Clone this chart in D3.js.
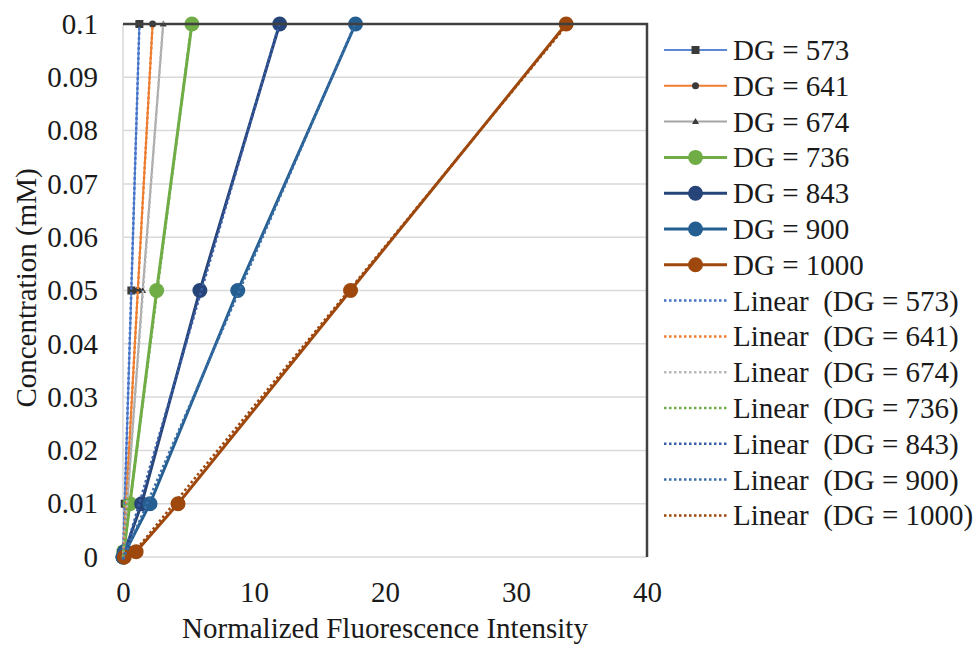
<!DOCTYPE html>
<html><head><meta charset="utf-8">
<script src="https://cdn.jsdelivr.net/npm/d3@7"></script>
<style>body{margin:0;background:#fff}svg{display:block}</style>
</head><body>
<script>
const concentrations = [0, 0.001, 0.01, 0.05, 0.1];
const seriesNames = ["DG = 573","DG = 641","DG = 674","DG = 736","DG = 843","DG = 900","DG = 1000"];
const dg573 = [0, 0.02, 0.13, 0.64, 1.25];
const dg641 = [0, 0.03, 0.24, 1.13, 2.26];
const dg674 = [0, 0.04, 0.32, 1.5, 3.07];
const dg736 = [0, 0.06, 0.53, 2.57, 5.26];
const dg843 = [0, 0.12, 1.42, 5.87, 11.96];
const dg900 = [0, 0.18, 2.06, 8.76, 17.75];
const dg1000 = [0.1, 1.0, 4.2, 17.37, 33.83];
const xTicks = [0, 10, 20, 30, 40];
const yTicks = [0, 0.01, 0.02, 0.03, 0.04, 0.05, 0.06, 0.07, 0.08, 0.09, 0.1];
const lineColors = ["#5b87d4","#ed7d31","#a5a5a5","#70ad47","#264478","#255e91","#9e480e"];
const trendColors = ["#4472c4","#ed7d31","#b8b8b8","#70ad47","#3a5ea8","#3b6fa8","#9e480e"];
const markerTypes = ["square","smallcircle","triangle","circle","circle","circle","circle"];
const allValues = [dg573, dg641, dg674, dg736, dg843, dg900, dg1000];

const FONT = "Liberation Serif";
const FS = 29;
const W = 977, H = 647;
const svg = d3.select("body").append("svg").attr("width", W).attr("height", H);
const x = d3.scaleLinear().domain([0, 40]).range([123, 647]);
const y = d3.scaleLinear().domain([0, 0.1]).range([557, 24]);

// gridlines
svg.append("g").selectAll("line").data(yTicks).join("line")
  .attr("x1", x(0)).attr("x2", x(40)).attr("y1", d => y(d)).attr("y2", d => y(d))
  .attr("stroke", "#d9d9d9").attr("stroke-width", 1.5);
svg.append("line").attr("x1", x(0)).attr("x2", x(0)).attr("y1", y(0)).attr("y2", y(0.1))
  .attr("stroke", "#d9d9d9").attr("stroke-width", 1.5);

// axes (labels only)
const yAxis = svg.append("g").attr("transform", `translate(${x(0)},0)`)
  .call(d3.axisLeft(y).tickValues(yTicks).tickFormat(d => d === 0 ? "0" : String(+d.toFixed(2))).tickSize(0).tickPadding(25));
yAxis.attr("font-family", FONT).attr("font-size", FS);
yAxis.select(".domain").remove();
yAxis.selectAll("text").attr("fill", "#1a1a1a");
const xAxis = svg.append("g").attr("transform", `translate(0,${y(0)})`)
  .call(d3.axisBottom(x).tickValues(xTicks).tickFormat(d3.format("d")).tickSize(0).tickPadding(24));
xAxis.attr("font-family", FONT).attr("font-size", FS);
xAxis.select(".domain").remove();
xAxis.selectAll("text").attr("fill", "#1a1a1a");

// titles
svg.append("text").attr("x", 385).attr("y", 638).attr("text-anchor", "middle").attr("font-size", FS)
  .attr("font-family", FONT).attr("fill", "#1a1a1a").text("Normalized Fluorescence Intensity");
svg.append("text").attr("transform", "translate(36,288) rotate(-90)").attr("text-anchor", "middle").attr("font-size", FS)
  .attr("font-family", FONT).attr("fill", "#1a1a1a").text("Concentration (mM)");

const line = d3.line().x(d => x(d[0])).y(d => y(d[1]));

function drawMarker(g, type, cx, cy, color) {
  if (type === "square") g.append("rect").attr("x", cx - 4).attr("y", cy - 4).attr("width", 8).attr("height", 8).attr("fill", "#3a3a3a");
  else if (type === "smallcircle") g.append("circle").attr("cx", cx).attr("cy", cy).attr("r", 3.5).attr("fill", "#3a3a3a");
  else if (type === "triangle") g.append("path").attr("d", `M${cx},${cy-3.5}L${cx+3.5},${cy+2.5}L${cx-3.5},${cy+2.5}Z`).attr("fill", "#3a3a3a");
  else g.append("circle").attr("cx", cx).attr("cy", cy).attr("r", 7.5).attr("fill", color);
}

// series
const plot = svg.append("g");
allValues.forEach((vals, i) => {
  const pts = vals.map((v, j) => [v, concentrations[j]]);
  plot.append("path").attr("d", line(pts)).attr("fill", "none").attr("stroke", lineColors[i])
    .attr("stroke-width", i < 3 ? 2 : 3);
  pts.forEach(p => drawMarker(plot, markerTypes[i], x(p[0]), y(p[1]), lineColors[i]));
});
// trendlines
allValues.forEach((vals, i) => {
  const xs = vals, ys = concentrations;
  const mx = d3.mean(xs), my = d3.mean(ys);
  const sxy = d3.sum(xs.map((v, j) => (v - mx) * (ys[j] - my)));
  const sxx = d3.sum(xs.map(v => (v - mx) * (v - mx)));
  const b = sxy / sxx, a = my - b * mx;
  const x0 = d3.min(xs), x1 = d3.max(xs);
  plot.append("path").attr("d", line([[x0, a + b * x0], [x1, a + b * x1]]))
    .attr("fill", "none").attr("stroke", trendColors[i]).attr("stroke-width", 2.5).attr("stroke-dasharray", "2.5,2.5");
});

// plot border top/right
svg.append("path").attr("d", `M${x(0)},${y(0.1)}H${x(40)}V${y(0)}`).attr("fill", "none").attr("stroke", "#404040").attr("stroke-width", 2.5);

// legend
const legend = svg.append("g").attr("font-family", FONT).attr("font-size", FS).attr("fill", "#1a1a1a");
const rowY = i => 50 + i * 35.8;
seriesNames.forEach((name, i) => {
  const cy = rowY(i);
  legend.append("line").attr("x1", 664).attr("x2", 727).attr("y1", cy).attr("y2", cy)
    .attr("stroke", lineColors[i]).attr("stroke-width", i < 3 ? 2 : 3);
  drawMarker(legend, markerTypes[i], 695.5, cy, lineColors[i]);
  legend.append("text").attr("x", 733).attr("y", cy + 10).text(name);
});
seriesNames.forEach((name, i) => {
  const cy = rowY(i + 7);
  legend.append("line").attr("x1", 664).attr("x2", 727).attr("y1", cy).attr("y2", cy)
    .attr("stroke", trendColors[i]).attr("stroke-width", 2.5).attr("stroke-dasharray", "2.5,2.5");
  legend.append("text").attr("x", 733).attr("y", cy + 10).style("white-space", "pre")
    .text("Linear\u00a0\u00a0(" + name + ")");
});
</script>
</body></html>
